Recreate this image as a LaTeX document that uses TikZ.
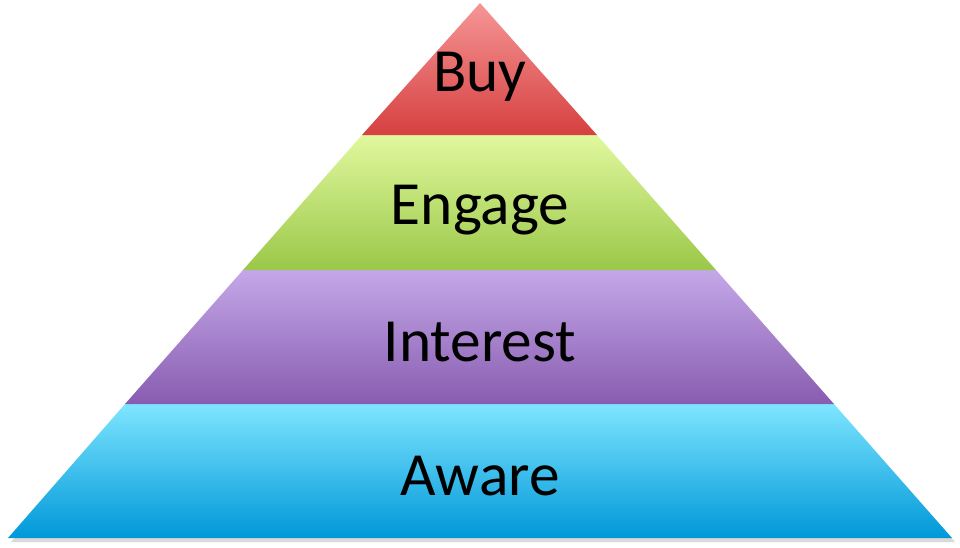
\documentclass[tikz,border=0pt]{standalone}
\usepackage{fontspec}
\setmainfont{Carlito}
\begin{document}
\begin{tikzpicture}[x=0.75pt,y=-0.75pt]
\tikzset{lbl/.style={font=\fontsize{46}{50}\selectfont,text=black}}
\useasboundingbox (0,0) rectangle (960,547);
\fill[black!15] (480,6) -- (955,542) -- (11,542) -- cycle;
\shade[top color=cyan!45!white!90!blue, bottom color=cyan!70!blue!85!black] (125,404) -- (834,404) -- (952,538) -- (8,538) -- cycle;
\shade[top color={rgb,255:red,196;green,168;blue,232}, bottom color={rgb,255:red,136;green,92;blue,176}] (243,270) -- (716,270) -- (834,404) -- (125,404) -- cycle;
\shade[top color={rgb,255:red,225;green,248;blue,158}, bottom color={rgb,255:red,154;green,200;blue,72}] (362,135) -- (597,135) -- (716,270) -- (243,270) -- cycle;
\shade[top color={rgb,255:red,246;green,150;blue,150}, bottom color={rgb,255:red,214;green,64;blue,64}] (480,3) -- (597,135) -- (362,135) -- cycle;
\node[lbl] (buy) at (480,77) {Buy};
\node[lbl] (engage) at (480,210) {Engage};
\node[lbl] (interest) at (480,342) {Interest};
\node[lbl] (aware) at (480,476) {Aware};
\end{tikzpicture}
\end{document}
